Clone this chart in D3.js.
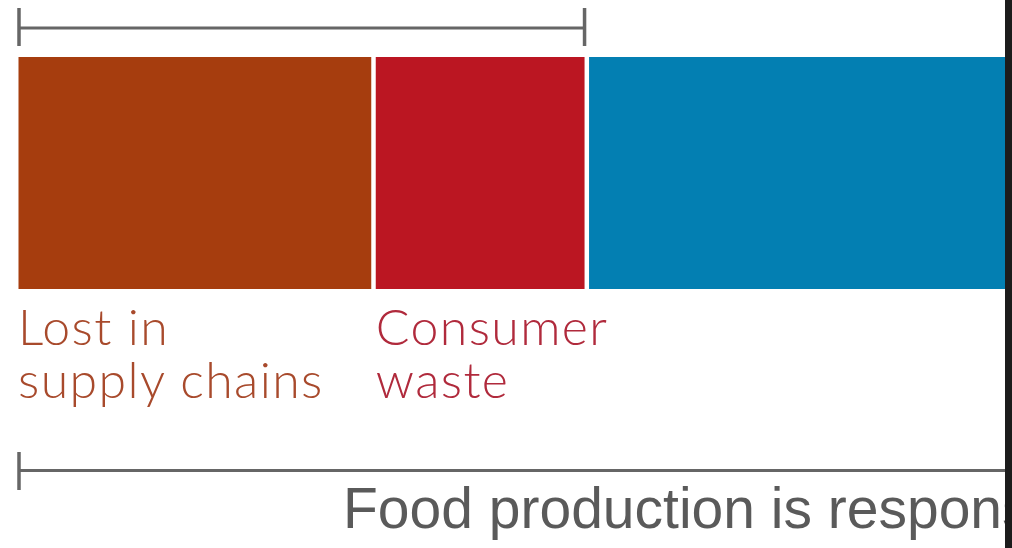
<!DOCTYPE html>
<html>
<head>
<meta charset="utf-8">
<script src="https://cdn.jsdelivr.net/npm/d3@7"></script>
<style>
  html, body { margin: 0; padding: 0; background: #fff; overflow: hidden; }
  svg { display: block; }
</style>
</head>
<body>
<svg id="chart" width="1012" height="548"></svg>
<script>
// Share of food-system emissions (%)
const categories = ["Lost in supply chains", "Consumer waste", "Rest of food production"];
const shares = [15, 9, 76];
const labelLines = [["Lost in", "supply chains"], ["Consumer", "waste"], []];
const barColors = ["#a63d0e", "#bb1622", "#037fb2"];
const labelColors = ["#a84a2c", "#b02a3c", "#037fb2"];
const totalLabel = "Food production is responsible for 26% of global emissions";

const svg = d3.select("#chart");
const W = 1012, H = 548;

// Cumulative stacking
let acc = 0;
const segs = shares.map((v, i) => {
  const s = { name: categories[i], value: v, x0: acc, x1: acc + v, i };
  acc += v;
  return s;
});

const x = d3.scaleLinear().domain([0, 100]).range([18, 18 + 2370]);
const barTop = 57, barBottom = 289;
const half = 2.25;

const left = d => d.i === 0 ? x(d.x0) + 0.5 : x(d.x0) + half;
const right = d => x(d.x1) - half;

svg.append("g").selectAll("rect")
  .data(segs)
  .join("rect")
  .attr("x", left)
  .attr("y", barTop)
  .attr("width", d => right(d) - left(d))
  .attr("height", barBottom - barTop)
  .attr("fill", d => barColors[d.i]);

// Segment labels, one text element per line
const lab = svg.append("g")
  .attr("font-family", "Lato, 'Open Sans', sans-serif")
  .attr("font-weight", 300)
  .attr("font-size", 50)
  .attr("letter-spacing", 1.4);
segs.forEach(d => {
  labelLines[d.i].forEach((line, k) => {
    lab.append("text")
      .attr("x", d.i === 0 ? x(d.x0) : x(d.x0) + half)
      .attr("y", 345 + k * 53)
      .attr("fill", labelColors[d.i])
      .text(line);
  });
});

// Bracket spanning the wasted share
const wasteEnd = segs[1].x1;
const br = svg.append("g").attr("stroke", "#666").attr("fill", "none");
const bx0 = x(0) + 1, bx1 = x(wasteEnd) - half;
br.append("line").attr("x1", bx0).attr("x2", bx1).attr("y1", 28).attr("y2", 28).attr("stroke-width", 3);
br.append("line").attr("x1", bx0).attr("x2", bx0).attr("y1", 8).attr("y2", 46).attr("stroke-width", 3.5);
br.append("line").attr("x1", bx1).attr("x2", bx1).attr("y1", 8).attr("y2", 46).attr("stroke-width", 3.5);

// Bracket spanning all food production
br.append("line").attr("x1", bx0).attr("x2", x(100)).attr("y1", 470.5).attr("y2", 470.5).attr("stroke-width", 3);
br.append("line").attr("x1", bx0).attr("x2", bx0).attr("y1", 452).attr("y2", 490).attr("stroke-width", 3.5);

svg.append("text")
  .attr("x", 343)
  .attr("y", 528)
  .attr("font-family", "'Liberation Sans', Arial, sans-serif")
  .attr("font-size", 57)
  .attr("fill", "#5a5a5a")
  .text(totalLabel);

// Dark frame edge on the right
svg.append("rect").attr("x", 1005).attr("y", 0).attr("width", W - 1005).attr("height", H).attr("fill", "#1c1c1c");
</script>
</body>
</html>
